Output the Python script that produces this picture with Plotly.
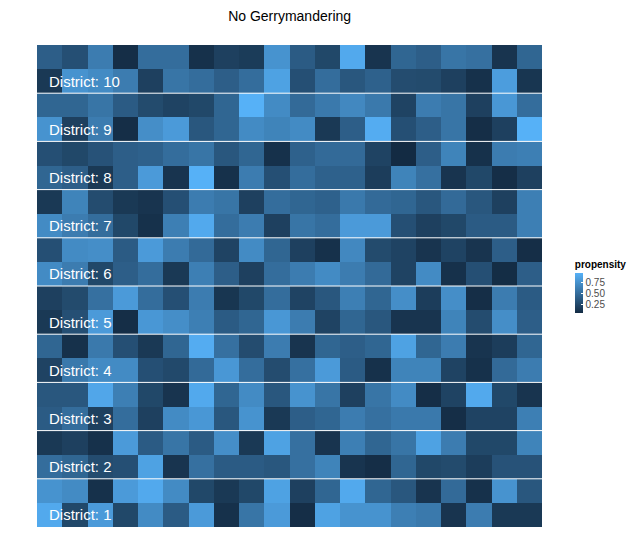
import plotly.graph_objects as go
import numpy as np

# propensity values, rows listed top (District 10, upper row) to bottom (District 1, lower row)
rows_top_down = [
    [0.40, 0.30, 0.60, 0.08, 0.50, 0.50, 0.10, 0.20, 0.17, 0.75, 0.38, 0.25, 0.90, 0.12, 0.45, 0.40, 0.55, 0.52, 0.12, 0.45],
    [0.15, 0.75, 0.70, 0.60, 0.20, 0.55, 0.50, 0.40, 0.50, 0.85, 0.30, 0.50, 0.35, 0.42, 0.28, 0.27, 0.20, 0.10, 0.82, 0.13],
    [0.45, 0.45, 0.55, 0.38, 0.27, 0.22, 0.25, 0.45, 0.95, 0.70, 0.48, 0.58, 0.68, 0.58, 0.22, 0.60, 0.55, 0.20, 0.78, 0.50],
    [0.75, 0.20, 0.60, 0.08, 0.72, 0.80, 0.35, 0.45, 0.70, 0.65, 0.70, 0.15, 0.40, 0.92, 0.30, 0.40, 0.55, 0.08, 0.20, 0.95],
    [0.30, 0.25, 0.32, 0.40, 0.42, 0.50, 0.55, 0.35, 0.45, 0.10, 0.42, 0.48, 0.48, 0.22, 0.06, 0.40, 0.65, 0.10, 0.60, 0.62],
    [0.45, 0.40, 0.15, 0.40, 0.80, 0.12, 0.95, 0.10, 0.60, 0.30, 0.50, 0.42, 0.42, 0.18, 0.65, 0.52, 0.12, 0.25, 0.08, 0.20],
    [0.15, 0.65, 0.28, 0.15, 0.12, 0.30, 0.60, 0.55, 0.20, 0.50, 0.45, 0.42, 0.58, 0.48, 0.45, 0.35, 0.48, 0.35, 0.20, 0.62],
    [0.70, 0.60, 0.50, 0.25, 0.10, 0.62, 0.90, 0.50, 0.60, 0.20, 0.55, 0.50, 0.80, 0.80, 0.30, 0.20, 0.25, 0.38, 0.38, 0.62],
    [0.30, 0.70, 0.72, 0.38, 0.80, 0.60, 0.48, 0.22, 0.70, 0.45, 0.20, 0.10, 0.68, 0.27, 0.22, 0.12, 0.22, 0.12, 0.40, 0.08],
    [0.70, 0.60, 0.25, 0.40, 0.50, 0.15, 0.62, 0.40, 0.20, 0.50, 0.60, 0.70, 0.60, 0.48, 0.22, 0.70, 0.10, 0.30, 0.07, 0.40],
    [0.20, 0.27, 0.52, 0.80, 0.50, 0.30, 0.60, 0.13, 0.25, 0.50, 0.22, 0.35, 0.62, 0.45, 0.72, 0.18, 0.72, 0.08, 0.60, 0.38],
    [0.15, 0.30, 0.80, 0.08, 0.78, 0.72, 0.62, 0.38, 0.45, 0.78, 0.60, 0.22, 0.45, 0.35, 0.12, 0.12, 0.65, 0.28, 0.72, 0.40],
    [0.45, 0.10, 0.58, 0.30, 0.15, 0.45, 0.92, 0.52, 0.28, 0.60, 0.12, 0.45, 0.40, 0.45, 0.85, 0.45, 0.60, 0.12, 0.18, 0.45],
    [0.22, 0.58, 0.70, 0.70, 0.30, 0.26, 0.48, 0.78, 0.50, 0.28, 0.52, 0.80, 0.38, 0.10, 0.65, 0.65, 0.22, 0.10, 0.48, 0.60],
    [0.35, 0.35, 0.88, 0.62, 0.25, 0.12, 0.90, 0.45, 0.70, 0.35, 0.75, 0.55, 0.20, 0.55, 0.70, 0.08, 0.22, 0.90, 0.25, 0.12],
    [0.38, 0.50, 0.20, 0.50, 0.20, 0.70, 0.78, 0.35, 0.75, 0.15, 0.40, 0.45, 0.60, 0.52, 0.58, 0.58, 0.08, 0.22, 0.22, 0.62],
    [0.15, 0.20, 0.10, 0.80, 0.38, 0.55, 0.38, 0.72, 0.15, 0.85, 0.52, 0.12, 0.62, 0.45, 0.55, 0.85, 0.60, 0.25, 0.25, 0.65],
    [0.50, 0.45, 0.28, 0.30, 0.85, 0.12, 0.52, 0.38, 0.38, 0.35, 0.52, 0.65, 0.12, 0.08, 0.45, 0.25, 0.27, 0.18, 0.32, 0.32],
    [0.75, 0.70, 0.10, 0.80, 0.90, 0.70, 0.25, 0.15, 0.25, 0.85, 0.20, 0.45, 0.90, 0.45, 0.35, 0.12, 0.48, 0.10, 0.75, 0.35],
    [0.90, 0.25, 0.80, 0.25, 0.70, 0.38, 0.80, 0.10, 0.55, 0.80, 0.08, 0.85, 0.75, 0.75, 0.62, 0.58, 0.12, 0.60, 0.15, 0.15],
]
districts = list(range(1, 11))
rows_per_district = 2

z = np.array(rows_top_down[::-1])
n_rows, n_cols = z.shape
xs = list(range(1, n_cols + 1))
ys = list(range(1, n_rows + 1))

fig = go.Figure()
fig.add_trace(go.Heatmap(
    x=xs, y=ys, z=z,
    colorscale=[[0, "#132B43"], [1, "#56B1F7"]],
    zmin=z.min(), zmax=z.max(),
    colorbar=dict(
        title=dict(text="<b>propensity</b>", side="top",
                   font=dict(size=10, color="black")),
        thickness=8, len=56, lenmode="pixels",
        x=1.065, xanchor="left", xpad=0,
        y=0.56, yanchor="top", ypad=0,
        tickvals=[0.25, 0.5, 0.75], ticktext=["0.25", "0.50", "0.75"],
        tickfont=dict(size=10, color="#4d4d4d"),
        ticks="inside", ticklen=2, tickcolor="white",
        outlinewidth=0,
    ),
))

# district separators and labels
for d in districts:
    bottom_row = (d - 1) * rows_per_district + 1
    fig.add_annotation(x=0.5, y=bottom_row, text=f"District: {d}",
                       xanchor="left", showarrow=False, xshift=10,
                       font=dict(size=15, color="white"))
    if d > 1:
        fig.add_shape(type="line", x0=0.5, x1=n_cols + 0.5,
                      y0=bottom_row - 0.5, y1=bottom_row - 0.5,
                      line=dict(color="white", width=1))

fig.update_layout(
    width=640, height=560,
    title=dict(text="No Gerrymandering", x=0.44, xanchor="center",
               y=1 - 8 / 560, yanchor="middle",
               font=dict(size=14, color="black")),
    font=dict(family="Liberation Sans, Arial, sans-serif"),
    margin=dict(l=29, r=106, t=37, b=41, autoexpand=False),
    plot_bgcolor="white", paper_bgcolor="white",
    xaxis=dict(visible=False, range=[0.5, n_cols + 0.5]),
    yaxis=dict(visible=False, range=[0.5, n_rows + 0.5]),
)

fig.write_html("out.html")
